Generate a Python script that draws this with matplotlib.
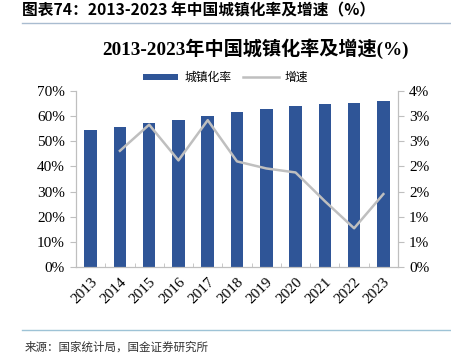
import matplotlib.pyplot as plt
from matplotlib.ticker import FuncFormatter

years = ['2013', '2014', '2015', '2016', '2017', '2018', '2019', '2020', '2021', '2022', '2023']
urban_rate = [54.49, 55.75, 57.33, 58.55, 60.24, 61.50, 62.71, 63.89, 64.72, 65.22, 66.16]
# growth starts in 2014
growth = [None, 2.31, 2.83, 2.12, 2.92, 2.10, 1.96, 1.88, 1.31, 0.77, 1.45]

cjk = ['Noto Sans CJK SC', 'DejaVu Sans']
serif = ['Liberation Serif', 'Noto Sans CJK SC']

bar_color = '#2F5597'
line_color = '#BFBFBF'
axis_color = '#BFBFBF'

fig = plt.figure(figsize=(4.51, 3.56), dpi=100)

fig.text(0.048, 0.972, '图表74：2013-2023 年中国城镇化率及增速（%）', family=cjk,
         fontsize=11.3, fontweight='bold', style='italic', va='center', ha='left')
fig.add_artist(plt.Line2D([0.049, 1.0], [0.935, 0.935], color='#A9BCD0', lw=1))
fig.add_artist(plt.Line2D([0.049, 1.0], [0.073, 0.073], color='#9EC3D6', lw=1))
fig.text(0.055, 0.026, '来源：国家统计局，国金证券研究所', family=cjk, fontsize=8.3,
         va='center', ha='left', color='#333333')

ax = fig.add_axes([0.1685, 0.25, 0.714, 0.4944])
x = list(range(len(years)))
ax.bar(x, urban_rate, width=0.43, color=bar_color, label='城镇化率', zorder=2)
ax.set_xlim(-0.5, len(years) - 0.5)
ax.set_ylim(0, 70)
ax.set_yticks(range(0, 71, 10))
ax.yaxis.set_major_formatter(FuncFormatter(lambda v, p: '%d%%' % v))
ax.set_xticks(x)
ax.set_xticklabels(years, rotation=45, ha='right', rotation_mode='anchor')
ax.set_xticks([i - 0.5 for i in range(len(years) + 1)], minor=True)
ax.tick_params(axis='x', which='major', length=0, pad=6)
ax.tick_params(axis='x', which='minor', length=3, direction='in', color=axis_color)
ax.tick_params(axis='y', length=4, color=axis_color, pad=4)
for lab in ax.get_xticklabels() + ax.get_yticklabels():
    lab.set_family(serif)
    lab.set_fontsize(11)

ax2 = ax.twinx()
gx = [i for i, g in enumerate(growth) if g is not None]
gy = [g for g in growth if g is not None]
ax2.plot(gx, gy, color=line_color, lw=1.8, label='增速', zorder=3)
ax2.set_ylim(0, 3.5)
ax2.set_yticks([i * 0.5 for i in range(8)])
ax2.yaxis.set_major_formatter(FuncFormatter(lambda v, p: '%d%%' % int(v + 0.5)))
ax2.tick_params(axis='y', length=4, color=axis_color, pad=4)
for lab in ax2.get_yticklabels():
    lab.set_family(serif)
    lab.set_fontsize(11)

for a in (ax, ax2):
    a.spines['top'].set_visible(False)
    for s in ('left', 'right', 'bottom'):
        a.spines[s].set_color(axis_color)

fig.text(0.566, 0.862, '2013-2023年中国城镇化率及增速(%)', family=serif, fontsize=13.8,
         fontweight='bold', ha='center', va='center')

h1, l1 = ax.get_legend_handles_labels()
h2, l2 = ax2.get_legend_handles_labels()
leg = fig.legend(h1 + h2, l1 + l2, loc='center', bbox_to_anchor=(0.50, 0.782), ncol=2,
                 frameon=False, prop={'family': cjk, 'size': 8.5}, handlelength=3.0,
                 handleheight=0.5, columnspacing=1.0, handletextpad=0.5)

fig.savefig('out.png', dpi=100)
